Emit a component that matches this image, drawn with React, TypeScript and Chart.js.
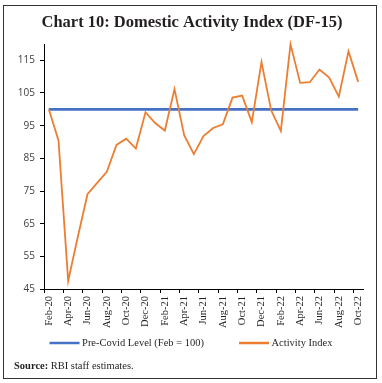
import React, { useEffect, useRef } from 'react';
import { Chart, registerables } from 'chart.js';

Chart.register(...registerables);

const chartTitle = 'Chart 10: Domestic Activity Index (DF-15)';
const sourceLabel = 'Source:';
const sourceText = 'RBI staff estimates.';

const months = [
  'Feb-20', 'Mar-20', 'Apr-20', 'May-20', 'Jun-20', 'Jul-20', 'Aug-20', 'Sep-20', 'Oct-20', 'Nov-20', 'Dec-20',
  'Jan-21', 'Feb-21', 'Mar-21', 'Apr-21', 'May-21', 'Jun-21', 'Jul-21', 'Aug-21', 'Sep-21', 'Oct-21', 'Nov-21', 'Dec-21',
  'Jan-22', 'Feb-22', 'Mar-22', 'Apr-22', 'May-22', 'Jun-22', 'Jul-22', 'Aug-22', 'Sep-22', 'Oct-22',
];

const activityIndex = [
  100, 90.5, 47.5, 61, 74, 77.5, 80.9, 89.1, 91, 88, 99.1,
  95.8, 93.5, 106.2, 92.1, 86.3, 91.8, 94.3, 95.4, 103.6, 104.2, 96.1, 114.5,
  99.7, 93.4, 119.9, 108.1, 108.3, 112.2, 109.7, 103.9, 117.8, 108.4,
];

const preCovidLevel = [
  100, 100, 100, 100, 100, 100, 100, 100, 100, 100, 100,
  100, 100, 100, 100, 100, 100, 100, 100, 100, 100, 100, 100,
  100, 100, 100, 100, 100, 100, 100, 100, 100, 100,
];

const yTicks = [45, 55, 65, 75, 85, 95, 105, 115];

const seriesNames = ['Pre-Covid Level (Feb = 100)', 'Activity Index'];

const TEXT = '#231f20';
const SERIF = '"Liberation Serif"';

const framePlugin = {
  id: 'frameLegendSource',
  afterDraw(chart: any) {
    const { ctx } = chart;
    ctx.save();
    // outer frame
    ctx.strokeStyle = '#333333';
    ctx.lineWidth = 1;
    ctx.strokeRect(3.5, 5.5, 373, 373);

    // legend (drawn below the axis labels)
    const legendY = 343;
    const lineLen = 30;
    const textGap = 2.5;
    const itemGap = 35;
    ctx.font = `10.5px ${SERIF}`;
    const items = chart.data.datasets.map((ds: any) => ({
      label: ds.label as string,
      color: ds.borderColor as string,
      w: ctx.measureText(ds.label).width,
    }));
    const total =
      items.reduce((s: number, it: any) => s + lineLen + textGap + it.w, 0) + itemGap * (items.length - 1);
    let x = 191 - total / 2;
    items.forEach((it: any) => {
      ctx.strokeStyle = it.color;
      ctx.lineWidth = 2.5;
      ctx.beginPath();
      ctx.moveTo(x, legendY);
      ctx.lineTo(x + lineLen, legendY);
      ctx.stroke();
      ctx.fillStyle = TEXT;
      ctx.textBaseline = 'middle';
      ctx.textAlign = 'left';
      ctx.fillText(it.label, x + lineLen + textGap, legendY);
      x += lineLen + textGap + it.w + itemGap;
    });

    // source note
    ctx.fillStyle = TEXT;
    ctx.textBaseline = 'alphabetic';
    ctx.textAlign = 'left';
    ctx.font = `bold 10.5px ${SERIF}`;
    ctx.fillText(sourceLabel, 14, 369);
    const w = ctx.measureText(sourceLabel).width;
    ctx.font = `10.5px ${SERIF}`;
    ctx.fillText(sourceText, 14 + w + 2.5, 369);
    ctx.restore();
  },
};

export default function App() {
  const ref = useRef<HTMLCanvasElement | null>(null);

  useEffect(() => {
    if (!ref.current) return;
    const chart = new Chart(ref.current, {
      type: 'line',
      data: {
        labels: months,
        datasets: [
          {
            label: seriesNames[0],
            data: preCovidLevel,
            borderColor: '#4472C4',
            backgroundColor: '#4472C4',
            borderWidth: 2.75,
            pointRadius: 0,
            tension: 0,
            order: 1,
          },
          {
            label: seriesNames[1],
            data: activityIndex,
            borderColor: '#ED7D31',
            backgroundColor: '#ED7D31',
            borderWidth: 1.8,
            pointRadius: 0,
            tension: 0,
            order: 0,
            clip: false,
          } as any,
        ],
      },
      options: {
        animation: false,
        responsive: false,
        events: [],
        layout: { padding: { left: 4, right: 2, top: 0, bottom: 54 } },
        plugins: {
          title: {
            display: true,
            text: chartTitle,
            color: TEXT,
            font: { family: SERIF, size: 16.5, weight: 'bold', lineHeight: 1.2 },
            padding: { top: 13, bottom: 11.2 },
          },
          legend: { display: false },
          tooltip: { enabled: false },
        },
        scales: {
          x: {
            type: 'category',
            offset: true,
            grid: {
              display: true,
              offset: true,
              drawOnChartArea: false,
              drawTicks: true,
              tickLength: 4,
              color: (ctx: any) =>
                ctx.index !== undefined && ctx.index % 2 === 0 ? '#000000' : 'rgba(0,0,0,0)',
            },
            border: { display: true, color: '#000000', width: 1 },
            ticks: {
              autoSkip: false,
              minRotation: 90,
              maxRotation: 90,
              padding: 3,
              color: TEXT,
              font: { family: SERIF, size: 10.5 },
              callback: (_v: any, i: number) => (i % 2 === 0 ? months[i] : ''),
            },
            afterFit: (s: any) => {
              s.height = 40;
            },
          },
          y: {
            min: 45,
            max: 120,
            afterBuildTicks: (s: any) => {
              s.ticks = yTicks.map((v) => ({ value: v }));
            },
            grid: {
              display: true,
              drawOnChartArea: false,
              drawTicks: true,
              tickLength: 4,
              color: '#000000',
            },
            border: { display: true, color: '#000000', width: 1 },
            ticks: {
              padding: 5,
              color: '#404040',
              font: { family: '"Open Sans"', size: 10 },
            },
            afterFit: (s: any) => {
              s.width = 40;
            },
          },
          y2: {
            position: 'right',
            display: true,
            grid: { display: false, drawTicks: false },
            border: { display: false },
            ticks: { display: false },
            afterFit: (s: any) => {
              s.width = 17;
            },
          },
        },
      },
      plugins: [framePlugin],
    } as any);
    return () => chart.destroy();
  }, []);

  return (
    <div style={{ position: 'absolute', left: 0, top: 0, width: 382, height: 383, background: '#fff' }}>
      <canvas ref={ref} width={382} height={383} style={{ display: 'block' }} />
    </div>
  );
}
